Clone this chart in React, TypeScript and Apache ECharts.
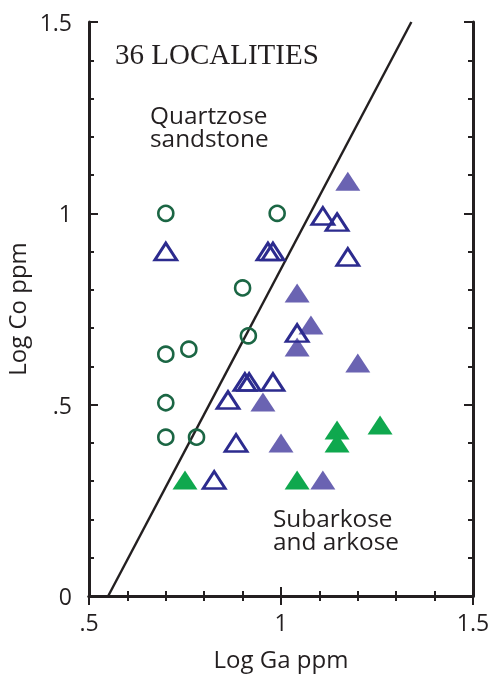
import React, { useEffect, useRef } from "react";
import * as echarts from "echarts";

// Log Ga vs Log Co for sandstone localities
const quartzoseCircles: [number, number][] = [
  [0.70, 1.0], [0.99, 1.0], [0.90, 0.805], [0.915, 0.68], [0.70, 0.632],
  [0.76, 0.645], [0.70, 0.505], [0.70, 0.415], [0.78, 0.415],
];
const openTriangles: [number, number][] = [
  [0.70, 0.90], [0.966, 0.90], [0.979, 0.90], [1.109, 0.993], [1.146, 0.977],
  [1.174, 0.886], [1.042, 0.687], [0.906, 0.559], [0.917, 0.559], [0.979, 0.559],
  [0.862, 0.512], [0.883, 0.40], [0.826, 0.303],
];
const purpleTriangles: [number, number][] = [
  [1.174, 1.084], [1.042, 0.792], [1.078, 0.708], [1.042, 0.651], [1.20, 0.609],
  [0.953, 0.507], [1.0, 0.40], [1.109, 0.303],
];
const greenTriangles: [number, number][] = [
  [0.75, 0.303], [1.042, 0.303], [1.146, 0.434], [1.146, 0.40], [1.258, 0.447],
];
const boundaryLine: [number, number][] = [[0.55, 0], [1.3395, 1.5]];
const xTickLabels: Record<string, string> = { "0.5": ".5", "1": "1", "1.5": "1.5" };
const yTickLabels: Record<string, string> = { "0": "0", "0.5": ".5", "1": "1", "1.5": "1.5" };

const INK = "#231f20";
const SANS = "'Open Sans', 'Noto Sans', sans-serif";

function label(text: string, left: number, top: number) {
  return {
    type: "text",
    left,
    top,
    scaleX: 1.06,
    style: { text, fontFamily: SANS, fontSize: 23, fill: INK },
  };
}

export default function App() {
  const ref = useRef<HTMLDivElement>(null);
  useEffect(() => {
    if (!ref.current) return;
    const chart = echarts.init(ref.current, undefined, { renderer: "svg" });
    const axisLine = { show: true, lineStyle: { color: INK, width: 3 } };
    const axisTick = { show: true, inside: true, length: 9, lineStyle: { color: INK, width: 2 } };
    const minorTick = { show: true, splitNumber: 5, length: 5, lineStyle: { color: INK, width: 2 } };
    const common = {
      type: "value" as const,
      interval: 0.5,
      axisLine,
      axisTick,
      minorTick,
      splitLine: { show: false },
    };
    const tickFont = { fontFamily: SANS, fontSize: 23, color: INK };
    chart.setOption({
      animation: false,
      grid: { left: 89, right: 19, top: 22, bottom: 79, outerBoundsMode: "none", containLabel: false },
      xAxis: [
        {
          ...common,
          min: 0.5,
          max: 1.5,
          position: "bottom",
          name: "Log Ga ppm",
          nameLocation: "middle",
          nameGap: 50,
          nameTextStyle: { fontFamily: SANS, fontSize: 24, color: INK },
          axisLabel: {
            ...tickFont,
            margin: 14,
            formatter: (v: number) => xTickLabels[String(v)] ?? "",
          },
        },
        { ...common, min: 0.5, max: 1.5, position: "top", axisLabel: { show: false } },
      ],
      yAxis: [
        {
          ...common,
          min: 0,
          max: 1.5,
          position: "left",
          name: "Log Co ppm",
          nameLocation: "middle",
          nameGap: 57,
          nameTextStyle: { fontFamily: SANS, fontSize: 24, color: INK },
          axisLabel: {
            ...tickFont,
            margin: 17,
            formatter: (v: number) => yTickLabels[String(v)] ?? "",
          },
        },
        { ...common, min: 0, max: 1.5, position: "right", axisLabel: { show: false } },
      ],
      graphic: [
        {
          type: "text",
          left: 115,
          top: 39,
          style: { text: "36 LOCALITIES", fontFamily: "'Liberation Serif', serif", fontSize: 29, fill: INK },
        },
        label("Quartzose", 150, 104),
        label("sandstone", 150, 127),
        label("Subarkose", 273, 507),
        label("and arkose", 273, 530),
      ],
      series: [
        {
          type: "line",
          data: boundaryLine,
          symbol: "none",
          lineStyle: { color: INK, width: 2.4 },
          z: 1,
        },
        {
          type: "scatter",
          data: quartzoseCircles,
          symbol: "circle",
          symbolSize: 15,
          itemStyle: { color: "rgba(0,0,0,0)", borderColor: "#1b6644", borderWidth: 2.6, opacity: 1 },
          z: 3,
        },
        {
          type: "scatter",
          data: purpleTriangles,
          symbol: "triangle",
          symbolSize: [25, 19],
          itemStyle: { color: "#6a63b2", opacity: 1 },
          z: 2,
        },
        {
          type: "scatter",
          data: greenTriangles,
          symbol: "triangle",
          symbolSize: [25, 19],
          itemStyle: { color: "#0fa84e", opacity: 1 },
          z: 2,
        },
        {
          type: "scatter",
          data: openTriangles,
          symbol: "triangle",
          symbolSize: [22, 17],
          itemStyle: { color: "rgba(0,0,0,0)", borderColor: "#2c2b8e", borderWidth: 2.8, opacity: 1 },
          z: 3,
        },
      ],
    });
    return () => chart.dispose();
  }, []);
  return (
    <div
      ref={ref}
      style={{ position: "fixed", left: 0, top: 0, width: 492, height: 675 }}
    />
  );
}
